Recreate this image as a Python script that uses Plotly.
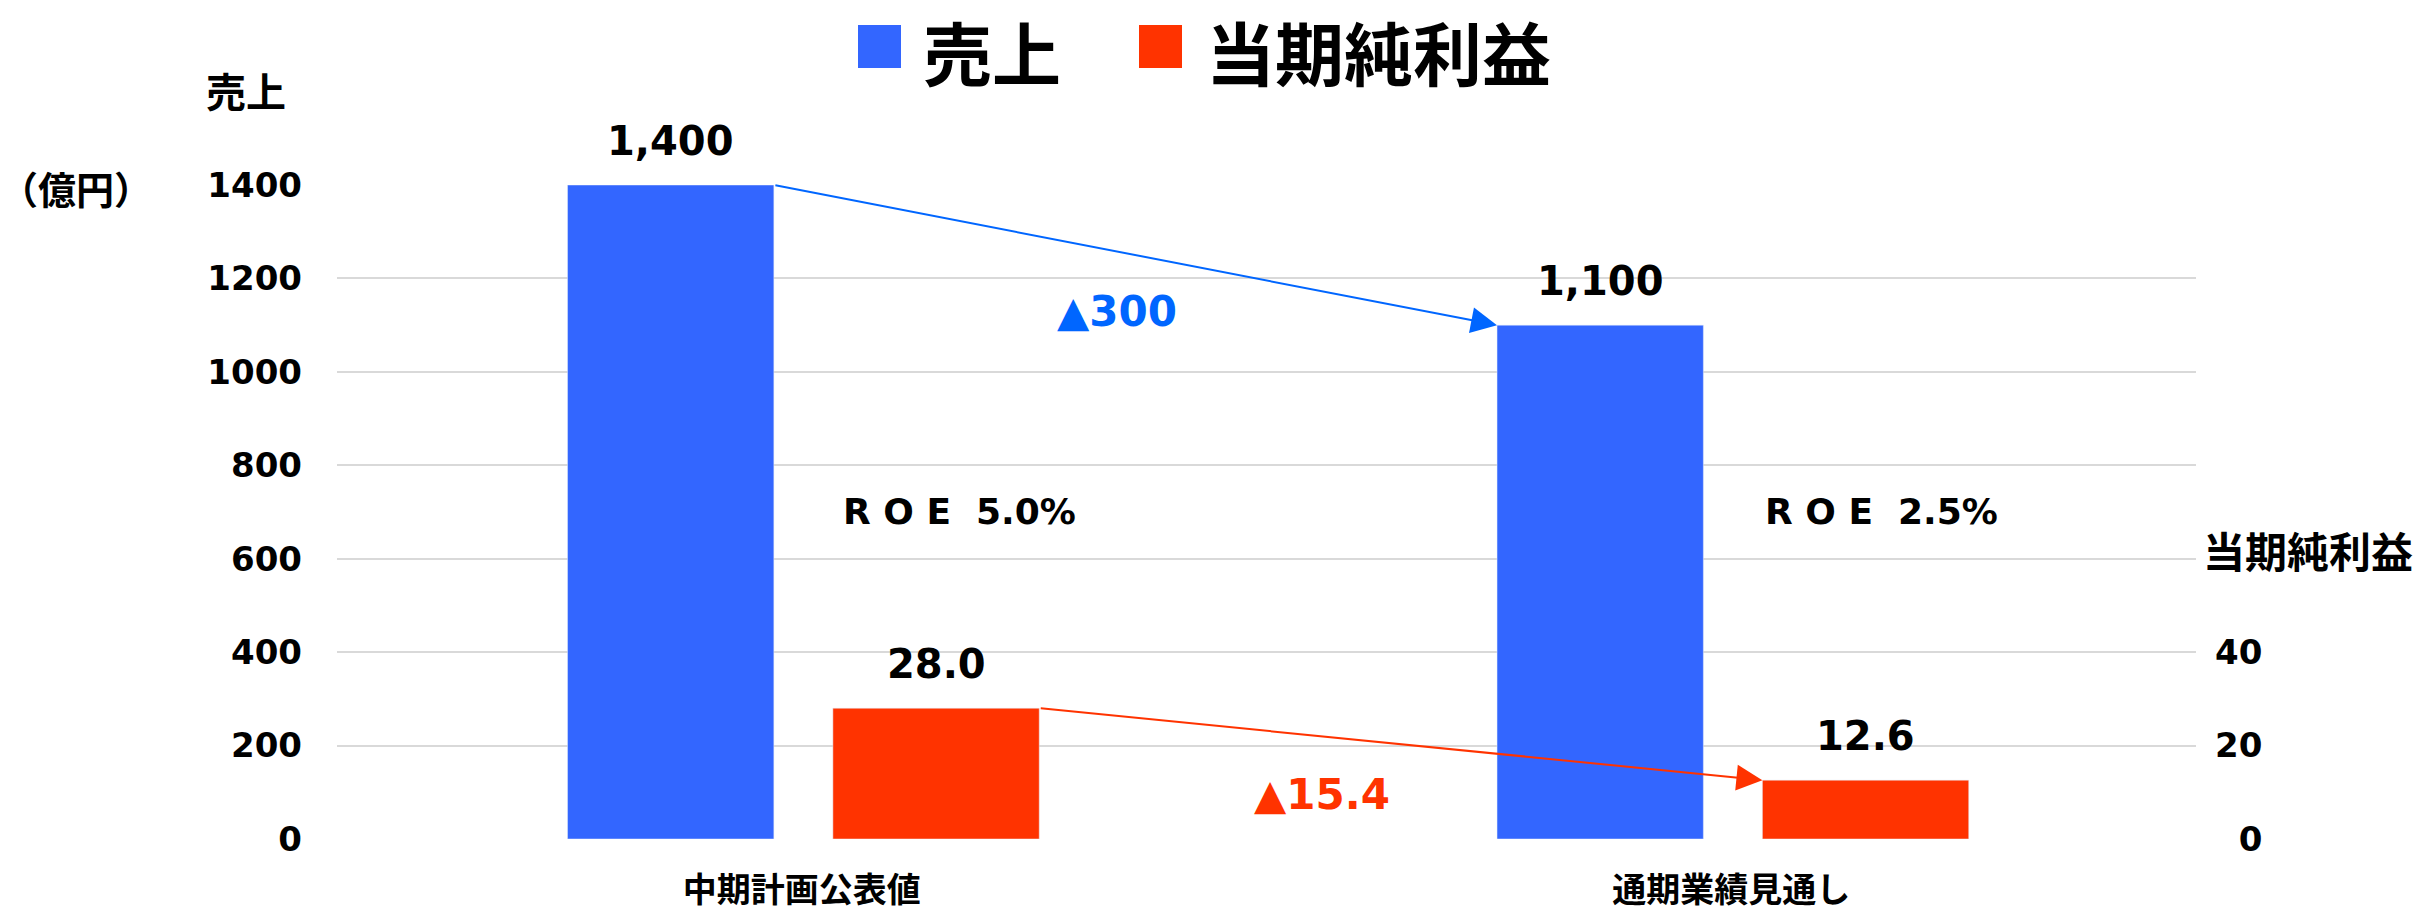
import plotly.graph_objects as go

# ---- data ----
categories = ["中期計画公表値", "通期業績見通し"]
sales = [1400, 1100]            # 売上 (億円)
net_income = [28.0, 12.6]       # 当期純利益
sales_diff_label = "▲300"
income_diff_label = "▲15.4"
roe_labels = ["R\u00a0O\u00a0E\u00a0\u00a05.0%", "R\u00a0O\u00a0E\u00a0\u00a02.5%"]
left_ticks = [0, 200, 400, 600, 800, 1000, 1200, 1400]
right_ticks = [0, 20, 40]

BLUE = "#3366FF"
RED = "#FF3300"
ARROW_BLUE = "#0066FF"
NUM_FONT = "DejaVu Sans"
JP_FONT = "Noto Sans CJK JP"

W, H = 2422, 914
ML, MR, MT, MB = 337, 226, 185, 75
PW = W - ML - MR
PH = H - MT - MB
px_per_cat = PW / 2.0

def px_x(px):
    return (px - ML) / PW

def px_y(py):
    return (H - MB - py) / PH

bar_w = 0.222
blue_off = -0.252
red_off = 0.0335

fig = go.Figure()
fig.add_trace(go.Bar(x=categories, y=sales, name="売上", marker_color=BLUE,
                     width=bar_w, offset=blue_off, yaxis="y"))
fig.add_trace(go.Bar(x=categories, y=net_income, name="当期純利益", marker_color=RED,
                     width=bar_w, offset=red_off, yaxis="y2"))

ann = []
blue_shift = (blue_off + bar_w / 2) * px_per_cat
red_shift = (red_off + bar_w / 2) * px_per_cat
for c, v in zip(categories, sales):
    ann.append(dict(x=c, y=v, xref="x", yref="y", text=f"{v:,}", showarrow=False,
                    xshift=blue_shift, yshift=44, yanchor="middle",
                    font=dict(family=NUM_FONT, size=40, color="black", weight="bold")))
for c, v in zip(categories, net_income):
    ann.append(dict(x=c, y=v, xref="x", yref="y2", text=f"{v:.1f}", showarrow=False,
                    xshift=red_shift, yshift=44, yanchor="middle",
                    font=dict(family=NUM_FONT, size=40, color="black", weight="bold")))

# arrows
ann.append(dict(x=1 + blue_off, y=sales[1], xref="x", yref="y",
                ax=0 + blue_off + bar_w, ay=sales[0], axref="x", ayref="y",
                showarrow=True, arrowhead=2, arrowwidth=2, arrowsize=2.6,
                arrowcolor=ARROW_BLUE, text="", standoff=0))
ann.append(dict(x=1 + red_off, y=net_income[1], xref="x", yref="y2",
                ax=0 + red_off + bar_w, ay=net_income[0], axref="x", ayref="y2",
                showarrow=True, arrowhead=2, arrowwidth=2, arrowsize=2.6,
                arrowcolor=RED, text="", standoff=0))

# difference labels
ann.append(dict(x=px_x(1117), y=px_y(311), xref="paper", yref="paper", text=sales_diff_label,
                showarrow=False, xanchor="center", yanchor="middle",
                font=dict(family=NUM_FONT, size=42, color=ARROW_BLUE, weight="bold")))
ann.append(dict(x=px_x(1322), y=px_y(794), xref="paper", yref="paper", text=income_diff_label,
                showarrow=False, xanchor="center", yanchor="middle",
                font=dict(family=NUM_FONT, size=42, color=RED, weight="bold")))

# ROE labels
for cx, t in zip([959, 1881], roe_labels):
    ann.append(dict(x=px_x(cx), y=px_y(511), xref="paper", yref="paper", text=t,
                    showarrow=False, xanchor="center", yanchor="middle",
                    font=dict(family=NUM_FONT, size=36, color="black", weight="bold")))

# axis titles
ann.append(dict(x=px_x(246), y=px_y(90), xref="paper", yref="paper", text="売上",
                showarrow=False, xanchor="center", yanchor="middle",
                font=dict(family=JP_FONT, size=40, color="black", weight="bold")))
ann.append(dict(x=px_x(76), y=px_y(188), xref="paper", yref="paper", text="（億円）",
                showarrow=False, xanchor="center", yanchor="middle",
                font=dict(family=JP_FONT, size=38, color="black", weight="bold")))
ann.append(dict(x=px_x(2308), y=px_y(549), xref="paper", yref="paper", text="当期純利益",
                showarrow=False, xanchor="center", yanchor="middle",
                font=dict(family=JP_FONT, size=42, color="black", weight="bold")))

# custom legend
legend_items = [("売上", BLUE, 858, 921), ("当期純利益", RED, 1139, 1204)]
shapes = []
for name, col, sx, tx in legend_items:
    shapes.append(dict(type="rect", xref="paper", yref="paper",
                       x0=px_x(sx), x1=px_x(sx + 43), y0=px_y(68), y1=px_y(25),
                       fillcolor=col, line=dict(width=0)))
    ann.append(dict(x=px_x(tx), y=px_y(51), xref="paper", yref="paper", text=name,
                    showarrow=False, xanchor="left", yanchor="middle",
                    font=dict(family=JP_FONT, size=69, color="black", weight="bold")))

fig.update_layout(
    width=W, height=H,
    margin=dict(l=ML, r=MR, t=MT, b=MB, pad=0, autoexpand=False),
    plot_bgcolor="white", paper_bgcolor="white",
    showlegend=False,
    annotations=ann, shapes=shapes,
    xaxis=dict(type="category", range=[-0.5, 1.5], showgrid=False, zeroline=False,
               showline=False, ticks="", ticklabelstandoff=28, automargin=False,
               tickfont=dict(family=JP_FONT, size=34, color="black", weight="bold")),
    yaxis=dict(range=[0, 1400], tickvals=left_ticks, showgrid=True, gridcolor="#D9D9D9",
               gridwidth=2, zeroline=False, showline=False, ticks="",
               ticklabelstandoff=34, automargin=False,
               tickfont=dict(family=NUM_FONT, size=34, color="black", weight="bold")),
    yaxis2=dict(range=[0, 140], overlaying="y", side="right", tickvals=right_ticks,
                ticktext=["\u2007" + str(right_ticks[0])] + [str(t) for t in right_ticks[1:]],
                showgrid=False, zeroline=False, showline=False, ticks="",
                ticklabelstandoff=18, automargin=False,
                tickfont=dict(family=NUM_FONT, size=34, color="black", weight="bold")),
)

fig.write_html("out.html", config={"displayModeBar": False},
               post_script="document.body.style.margin='0';document.body.style.overflow='hidden';")
